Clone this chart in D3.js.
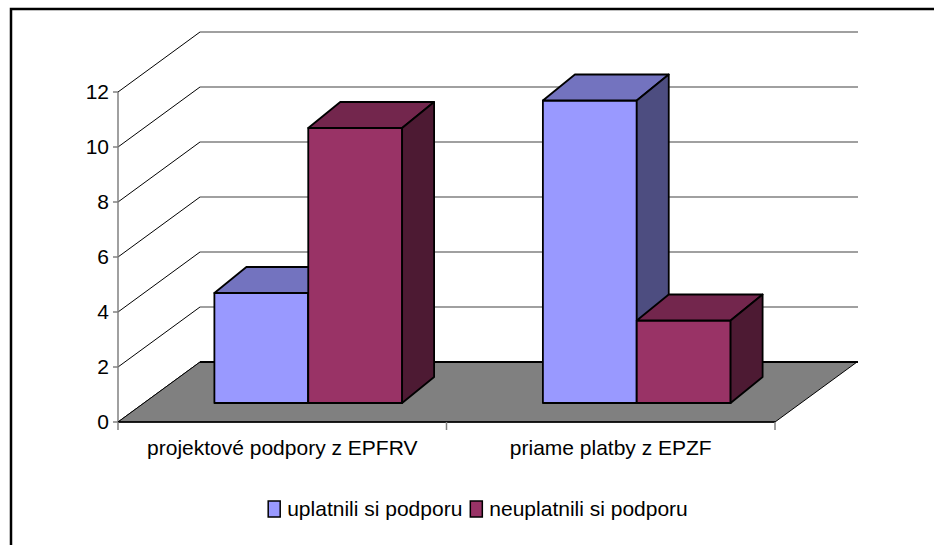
<!DOCTYPE html>
<html>
<head>
<meta charset="utf-8">
<script src="https://cdn.jsdelivr.net/npm/d3@7"></script>
<style>
  body { margin: 0; background: #fff; }
  text { font-family: "Liberation Sans", Arial, sans-serif; font-size: 21px; fill: #000; }
</style>
</head>
<body>
<div id="chart"></div>
<script>
// data
var categories = ["projektové podpory z EPFRV", "priame platby z EPZF"];
var seriesNames = ["uplatnili si podporu", "neuplatnili si podporu"];
var uplatnili = [4, 11];
var neuplatnili = [10, 3];
var yTicks = [0, 2, 4, 6, 8, 10, 12];

var seriesValues = [uplatnili, neuplatnili];
var colors = [
    {front: "#9999ff", top: "#7373bf", side: "#4d4d80"},
    {front: "#993366", top: "#73264d", side: "#4d1a33"}
];

var width = 934, height = 545;
var svg = d3.select("#chart").append("svg")
    .attr("width", width)
    .attr("height", height);

// outer frame (only top and left edges fall inside the view)
svg.append("rect")
    .attr("x", 11).attr("y", 9)
    .attr("width", 940).attr("height", 560)
    .attr("fill", "none")
    .attr("stroke", "#000")
    .attr("stroke-width", 2.5);

var x0 = d3.scaleBand().domain(categories).range([118, 775]);
var x1 = d3.scaleBand().domain(seriesNames).range([0, x0.bandwidth()]).paddingOuter(0.75);
var y = d3.scaleLinear().domain([0, 12]).range([422, 92]);

// depth of the box (floor), bar placement in depth
var depth = {dx: 82, dy: -60};
var barOff = {dx: 26, dy: -19};
var barDepth = {dx: 32, dy: -26};

// back wall gridlines
svg.selectAll(".grid")
    .data(yTicks)
    .enter()
    .append("line")
    .attr("x1", 118 + depth.dx)
    .attr("x2", 775 + depth.dx + 1)
    .attr("y1", function (d) { return y(d) + depth.dy; })
    .attr("y2", function (d) { return y(d) + depth.dy; })
    .attr("stroke", "#808080")
    .attr("stroke-width", 1.5);

// side wall diagonals
svg.selectAll(".diag")
    .data(yTicks)
    .enter()
    .append("line")
    .attr("x1", 118)
    .attr("x2", 118 + depth.dx)
    .attr("y1", function (d) { return y(d); })
    .attr("y2", function (d) { return y(d) + depth.dy; })
    .attr("stroke", "#000")
    .attr("stroke-width", 1);

// vertical axis
svg.append("line")
    .attr("x1", 118).attr("x2", 118)
    .attr("y1", y(12)).attr("y2", y(0))
    .attr("stroke", "#808080")
    .attr("stroke-width", 1.5);

svg.selectAll(".ytick")
    .data(yTicks)
    .enter()
    .append("line")
    .attr("x1", 113).attr("x2", 118)
    .attr("y1", function (d) { return y(d); })
    .attr("y2", function (d) { return y(d); })
    .attr("stroke", "#808080")
    .attr("stroke-width", 1.5);

svg.selectAll(".ylabel")
    .data(yTicks)
    .enter()
    .append("text")
    .attr("x", 109)
    .attr("y", function (d) { return y(d); })
    .attr("dy", "0.35em")
    .attr("text-anchor", "end")
    .text(function (d) { return d; });

// floor
var fl = x0.range()[0], fr = x0.range()[1], fy = y(0);
svg.append("polygon")
    .attr("points", [[fl, fy], [fr, fy], [fr + depth.dx, fy + depth.dy], [fl + depth.dx, fy + depth.dy]].join(" "))
    .attr("fill", "#808080")
    .attr("stroke", "#000")
    .attr("stroke-width", 1);
svg.append("line")
    .attr("x1", fl + depth.dx).attr("x2", fr + depth.dx + 1)
    .attr("y1", fy + depth.dy).attr("y2", fy + depth.dy)
    .attr("stroke", "#000").attr("stroke-width", 2);
svg.append("line")
    .attr("x1", fl).attr("x2", fr)
    .attr("y1", fy).attr("y2", fy)
    .attr("stroke", "#000").attr("stroke-width", 1.5);

// category ticks
svg.selectAll(".xtick")
    .data([fl, fl + x0.step(), fr])
    .enter()
    .append("line")
    .attr("x1", function (d) { return d; })
    .attr("x2", function (d) { return d; })
    .attr("y1", fy).attr("y2", fy + 8)
    .attr("stroke", "#808080")
    .attr("stroke-width", 1.5);

svg.selectAll(".xlabel")
    .data(categories)
    .enter()
    .append("text")
    .attr("x", function (d) { return x0(d) + x0.bandwidth() / 2; })
    .attr("y", 455)
    .attr("text-anchor", "middle")
    .text(function (d) { return d; });

// bars
var bars = [];
categories.forEach(function (c, ci) {
    seriesNames.forEach(function (s, si) {
        bars.push({cat: c, ser: s, si: si, value: seriesValues[si][ci]});
    });
});

var g = svg.selectAll(".bar")
    .data(bars)
    .enter()
    .append("g")
    .attr("class", "bar");

function pts(list) { return list.map(function (p) { return p.join(","); }).join(" "); }

g.each(function (d) {
    var sel = d3.select(this);
    var xl = x0(d.cat) + x1(d.ser) + barOff.dx;
    var xr = xl + x1.bandwidth();
    var yb = y(0) + barOff.dy;
    var yt = y(d.value) + barOff.dy;
    var bx = barDepth.dx, by = barDepth.dy;
    var col = colors[d.si];
    sel.append("polygon")
        .attr("points", pts([[xl, yb], [xr, yb], [xr, yt], [xl, yt]]))
        .attr("fill", col.front);
    sel.append("polygon")
        .attr("points", pts([[xl, yt], [xr, yt], [xr + bx, yt + by], [xl + bx, yt + by]]))
        .attr("fill", col.top);
    sel.append("polygon")
        .attr("points", pts([[xr, yb], [xr + bx, yb + by], [xr + bx, yt + by], [xr, yt]]))
        .attr("fill", col.side);
    sel.selectAll("polygon")
        .attr("stroke", "#000")
        .attr("stroke-width", 1.8)
        .attr("stroke-linejoin", "round");
});

// legend
var legend = svg.append("g");
var lx = 0;
seriesNames.forEach(function (s, i) {
    var item = legend.append("g").attr("transform", "translate(" + lx + ",0)");
    item.append("rect")
        .attr("x", 0).attr("y", -15)
        .attr("width", 12).attr("height", 16)
        .attr("fill", colors[i].front)
        .attr("stroke", "#000")
        .attr("stroke-width", 1.5);
    var t = item.append("text")
        .attr("x", 19)
        .attr("y", 0)
        .text(s);
    lx += 19 + t.node().getComputedTextLength() + 8;
});
var lw = lx - 8;
legend.attr("transform", "translate(" + (478 - lw / 2) + ",516)");
</script>
</body>
</html>
